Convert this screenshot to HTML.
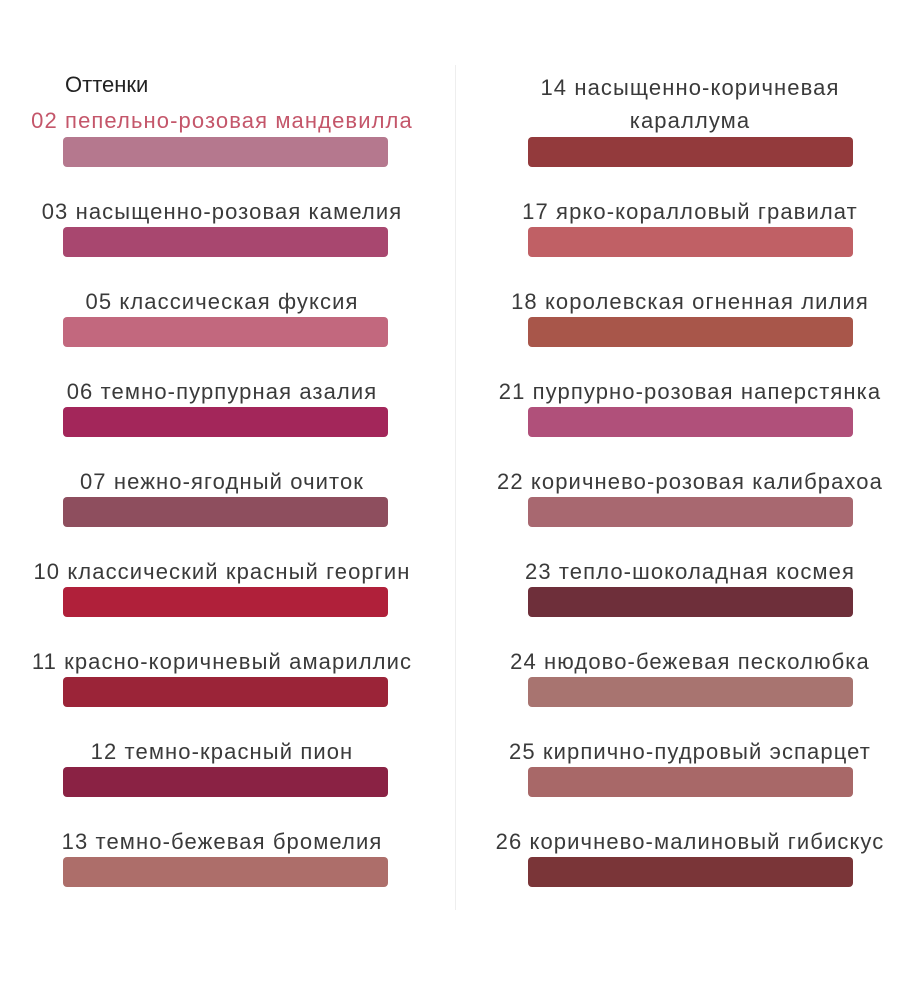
<!DOCTYPE html>
<html><head><meta charset="utf-8"><style>
body{margin:0;width:921px;height:1000px;background:#fff;position:relative;font-family:"Liberation Sans","DejaVu Sans",sans-serif;overflow:hidden}
.t{position:absolute;width:460px;text-align:center;font-size:22px;letter-spacing:1.1px;color:#3a3a3a;white-space:nowrap;line-height:24px}
.s{position:absolute;width:325px;height:30px;border-radius:4px}
.l .t{left:-8px}.r .t{left:460px}
.l .s{left:63px}.r .s{left:528px}
</style></head><body>
<div style="position:absolute;left:455px;top:65px;width:1px;height:845px;background:#eee"></div>
<div style="position:absolute;left:65px;top:72px;font-size:22px;color:#222">Оттенки</div>
<div class="l">
<div class="t" style="top:109px;color:#c4566a">02 пепельно-розовая мандевилла</div><div class="s" style="top:137px;background:#b5788e"></div>
<div class="t" style="top:200px">03 насыщенно-розовая камелия</div><div class="s" style="top:227px;background:#a8476f"></div>
<div class="t" style="top:290px">05 классическая фуксия</div><div class="s" style="top:317px;background:#c2687e"></div>
<div class="t" style="top:380px">06 темно-пурпурная азалия</div><div class="s" style="top:407px;background:#a3265a"></div>
<div class="t" style="top:470px">07 нежно-ягодный очиток</div><div class="s" style="top:497px;background:#8e4e5e"></div>
<div class="t" style="top:560px">10 классический красный георгин</div><div class="s" style="top:587px;background:#b0203a"></div>
<div class="t" style="top:650px">11 красно-коричневый амариллис</div><div class="s" style="top:677px;background:#9b2438"></div>
<div class="t" style="top:740px">12 темно-красный пион</div><div class="s" style="top:767px;background:#8a2244"></div>
<div class="t" style="top:830px">13 темно-бежевая бромелия</div><div class="s" style="top:857px;background:#ad6e6a"></div>
</div>
<div class="r">
<div class="t" style="top:76px">14 насыщенно-коричневая</div>
<div class="t" style="top:109px">караллума</div><div class="s" style="top:137px;background:#933a3c"></div>
<div class="t" style="top:200px">17 ярко-коралловый гравилат</div><div class="s" style="top:227px;background:#c06065"></div>
<div class="t" style="top:290px">18 королевская огненная лилия</div><div class="s" style="top:317px;background:#a8564a"></div>
<div class="t" style="top:380px">21 пурпурно-розовая наперстянка</div><div class="s" style="top:407px;background:#b0507a"></div>
<div class="t" style="top:470px">22 коричнево-розовая калибрахоа</div><div class="s" style="top:497px;background:#a86870"></div>
<div class="t" style="top:560px">23 тепло-шоколадная космея</div><div class="s" style="top:587px;background:#6e2f3a"></div>
<div class="t" style="top:650px">24 нюдово-бежевая песколюбка</div><div class="s" style="top:677px;background:#a87470"></div>
<div class="t" style="top:740px">25 кирпично-пудровый эспарцет</div><div class="s" style="top:767px;background:#a86868"></div>
<div class="t" style="top:830px">26 коричнево-малиновый гибискус</div><div class="s" style="top:857px;background:#7a3538"></div>
</div>
</body></html>
